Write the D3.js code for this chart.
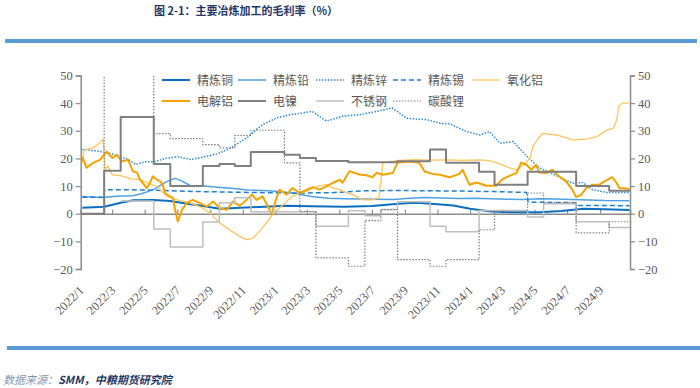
<!DOCTYPE html>
<html>
<head>
<meta charset="utf-8">
<script src="https://cdn.jsdelivr.net/npm/d3@7"></script>
<style>
  html, body { margin: 0; padding: 0; background: #fff; }
  svg { display: block; }
</style>
</head>
<body>
<svg id="chart" width="700" height="388"></svg>
<script>
// ---- data ----
const yTicks = [-20, -10, 0, 10, 20, 30, 40, 50];

const copperPts = [
  ["2022-01-04", 2.2], ["2022-02-14", 2.5], ["2022-03-17", 4.0], ["2022-04-10", 4.9], ["2022-05-18", 5.0],
  ["2022-06-18", 4.6], ["2022-07-20", 3.6], ["2022-08-15", 2.9], ["2022-09-19", 1.8], ["2022-11-16", 2.3],
  ["2023-01-20", 2.9], ["2023-03-10", 2.7], ["2023-05-10", 2.5], ["2023-07-01", 2.8], ["2023-08-20", 3.6],
  ["2023-09-20", 4.0], ["2023-10-20", 3.6], ["2023-12-01", 3.0], ["2024-01-01", 1.8], ["2024-02-10", 0.8],
  ["2024-03-20", 0.5], ["2024-05-10", 0.5], ["2024-06-20", 1.0], ["2024-08-01", 1.8], ["2024-09-10", 1.6],
  ["2024-10-26", 1.3]
];

const leadPts = [
  ["2022-01-04", 6.2], ["2022-02-10", 5.9], ["2022-03-10", 6.3], ["2022-04-10", 6.5], ["2022-05-01", 7.6],
  ["2022-05-20", 9.0], ["2022-06-10", 11.5], ["2022-06-27", 12.8], ["2022-07-10", 11.8], ["2022-07-25", 10.2],
  ["2022-08-20", 10.0], ["2022-09-15", 9.6], ["2022-10-10", 9.2], ["2022-11-10", 8.6], ["2022-12-10", 8.4],
  ["2023-01-10", 8.0], ["2023-02-10", 7.2], ["2023-03-10", 6.2], ["2023-04-10", 5.6], ["2023-05-10", 5.4],
  ["2023-06-10", 5.3], ["2023-07-10", 5.2], ["2023-08-10", 5.1], ["2023-09-10", 5.6], ["2023-10-10", 5.9],
  ["2023-11-10", 5.7], ["2023-12-10", 5.5], ["2024-01-10", 5.6], ["2024-02-10", 5.4], ["2024-03-10", 5.2],
  ["2024-04-10", 5.1], ["2024-05-10", 5.4], ["2024-06-10", 5.3], ["2024-07-10", 5.1], ["2024-08-10", 5.0],
  ["2024-09-10", 4.8], ["2024-10-26", 4.7]
];

const zincPts = [
  ["2022-01-04", 23.2], ["2022-02-02", 22.7], ["2022-02-27", 21.7], ["2022-03-31", 19.6], ["2022-04-14", 17.8],
  ["2022-05-02", 18.8], ["2022-05-20", 18.8], ["2022-06-08", 20.0], ["2022-07-02", 20.6], ["2022-07-27", 19.6],
  ["2022-08-27", 20.9], ["2022-09-15", 21.7], ["2022-10-10", 23.8], ["2022-11-11", 27.8], ["2022-11-26", 30.4],
  ["2022-12-08", 32.2], ["2023-01-04", 34.7], ["2023-01-28", 35.8], ["2023-02-20", 36.4], ["2023-03-11", 37.0],
  ["2023-04-07", 33.5], ["2023-05-07", 35.3], ["2023-06-08", 35.8], ["2023-07-10", 37.0], ["2023-08-08", 38.3],
  ["2023-09-05", 34.5], ["2023-10-13", 34.0], ["2023-11-06", 32.7], ["2023-11-24", 32.5], ["2023-12-26", 29.7],
  ["2024-01-19", 28.5], ["2024-02-07", 29.7], ["2024-02-26", 25.5], ["2024-03-22", 26.1], ["2024-04-17", 20.7],
  ["2024-05-11", 16.5], ["2024-06-12", 13.7], ["2024-07-11", 11.0], ["2024-07-30", 11.3], ["2024-08-18", 8.7],
  ["2024-09-13", 7.7], ["2024-10-26", 7.7]
];

const tinPts = [
  ["2022-01-04", 6.0], ["2022-02-13", 6.0], ["2022-02-15", 8.7], ["2022-05-01", 8.6], ["2022-06-15", 8.3],
  ["2022-08-15", 8.0], ["2022-10-15", 7.8], ["2022-12-15", 7.6], ["2023-02-15", 7.5], ["2023-04-15", 7.6],
  ["2023-06-15", 8.3], ["2023-08-15", 8.4], ["2023-10-15", 8.3], ["2023-12-15", 8.2], ["2024-02-15", 8.0],
  ["2024-04-16", 7.7], ["2024-04-19", 4.2], ["2024-07-17", 4.0], ["2024-07-20", 3.0], ["2024-10-26", 2.9]
];

const aluminaPts = [
  ["2022-01-04", 18.3], ["2022-01-07", 23.1], ["2022-01-24", 23.8], ["2022-02-06", 25.7], ["2022-02-12", 27.0],
  ["2022-02-16", 15.9], ["2022-02-21", 17.3], ["2022-03-01", 14.1], ["2022-03-19", 13.7], ["2022-04-05", 12.6],
  ["2022-04-22", 12.3], ["2022-05-05", 11.2], ["2022-05-24", 9.9], ["2022-06-12", 6.3], ["2022-07-01", 5.0],
  ["2022-07-25", 3.9], ["2022-08-12", 2.6], ["2022-08-31", 0.3], ["2022-09-19", -3.4], ["2022-10-07", -5.8],
  ["2022-10-26", -8.2], ["2022-11-08", -9.4], ["2022-11-20", -8.8], ["2022-12-02", -6.4], ["2022-12-15", -3.4],
  ["2022-12-26", -0.4], ["2023-01-09", 2.1], ["2023-01-22", 4.4], ["2023-02-02", 6.3], ["2023-02-16", 7.5],
  ["2023-03-01", 8.1], ["2023-03-12", 9.3], ["2023-03-25", 10.1], ["2023-04-07", 10.5], ["2023-04-18", 9.3],
  ["2023-05-02", 8.7], ["2023-05-15", 7.5], ["2023-05-26", 6.9], ["2023-06-14", 5.0], ["2023-07-02", 5.0],
  ["2023-07-14", 5.8], ["2023-07-22", 18.5], ["2023-08-20", 19.3], ["2023-09-20", 19.6], ["2023-10-20", 19.4],
  ["2023-11-20", 19.5], ["2023-12-20", 19.3], ["2024-01-19", 19.5], ["2024-02-07", 19.2], ["2024-02-26", 18.0],
  ["2024-03-16", 16.5], ["2024-03-29", 15.9], ["2024-04-10", 17.7], ["2024-04-23", 20.1], ["2024-04-28", 24.3],
  ["2024-05-08", 27.3], ["2024-05-17", 29.1], ["2024-05-30", 28.8], ["2024-06-18", 28.2], ["2024-07-11", 26.7],
  ["2024-08-07", 27.0], ["2024-08-26", 27.9], ["2024-09-14", 30.3], ["2024-09-26", 30.9], ["2024-10-02", 33.9],
  ["2024-10-06", 38.8], ["2024-10-12", 40.0], ["2024-10-26", 40.0]
];

const aluminiumPts = [
  ["2022-01-04", 20.7], ["2022-01-12", 16.6], ["2022-01-24", 18.4], ["2022-02-06", 19.5], ["2022-02-19", 22.5],
  ["2022-03-01", 20.2], ["2022-03-10", 21.3], ["2022-03-19", 18.9], ["2022-03-31", 19.5], ["2022-04-09", 15.3],
  ["2022-04-17", 14.8], ["2022-04-22", 12.3], ["2022-05-05", 9.3], ["2022-05-11", 11.2], ["2022-05-16", 13.5],
  ["2022-05-24", 12.3], ["2022-05-30", 11.7], ["2022-06-04", 10.5], ["2022-06-08", 7.5], ["2022-06-17", 6.3],
  ["2022-06-23", 5.7], ["2022-06-27", 1.4], ["2022-07-02", -2.8], ["2022-07-10", 1.4], ["2022-07-19", 3.9],
  ["2022-07-30", 5.0], ["2022-08-12", 3.9], ["2022-08-26", 2.6], ["2022-09-06", 4.4], ["2022-09-19", 2.1],
  ["2022-10-02", 1.4], ["2022-10-13", 4.4], ["2022-10-26", 2.9], ["2022-11-08", 5.0], ["2022-11-18", 6.9],
  ["2022-11-27", 5.0], ["2022-12-08", 6.3], ["2022-12-18", 2.6], ["2022-12-25", -0.3], ["2023-01-02", 5.0],
  ["2023-01-09", 8.7], ["2023-01-22", 6.9], ["2023-02-02", 9.3], ["2023-02-16", 7.5], ["2023-03-01", 8.7],
  ["2023-03-12", 9.6], ["2023-03-25", 8.7], ["2023-04-07", 9.9], ["2023-04-18", 11.1], ["2023-05-02", 12.3],
  ["2023-05-07", 11.2], ["2023-05-20", 15.4], ["2023-06-08", 14.2], ["2023-06-21", 13.9], ["2023-07-02", 13.2],
  ["2023-07-10", 14.8], ["2023-07-21", 14.1], ["2023-08-09", 14.7], ["2023-08-18", 18.4], ["2023-09-10", 18.9],
  ["2023-09-28", 18.4], ["2023-10-08", 15.3], ["2023-10-23", 14.4], ["2023-11-05", 14.1], ["2023-11-24", 13.2],
  ["2023-12-12", 14.4], ["2023-12-18", 15.9], ["2023-12-31", 10.5], ["2024-01-13", 11.3], ["2024-02-01", 10.1],
  ["2024-02-19", 10.1], ["2024-03-02", 12.5], ["2024-03-15", 13.7], ["2024-03-28", 14.7], ["2024-04-06", 18.5],
  ["2024-04-16", 17.7], ["2024-04-25", 15.9], ["2024-05-04", 17.7], ["2024-05-10", 14.9], ["2024-05-23", 14.7],
  ["2024-06-03", 15.9], ["2024-06-16", 13.5], ["2024-06-29", 11.7], ["2024-07-11", 8.7], ["2024-07-18", 6.0],
  ["2024-07-28", 6.9], ["2024-08-06", 9.3], ["2024-08-17", 10.5], ["2024-08-31", 10.5], ["2024-09-09", 11.7],
  ["2024-09-24", 13.2], ["2024-10-02", 11.1], ["2024-10-07", 9.3], ["2024-10-26", 9.0]
];

// monthly step series: [change date, value]
const nickelSteps = [
  ["2022-01-01", 0], ["2022-02-14", 15.5], ["2022-03-17", 35], ["2022-05-18", 18], ["2022-06-18", 10],
  ["2022-08-18", 17.3], ["2022-09-18", 18], ["2022-10-17", 17.3], ["2022-11-16", 22.3], ["2023-01-18", 21.3],
  ["2023-02-16", 20.2], ["2023-03-18", 19.1], ["2023-05-18", 18.6], ["2023-08-18", 19.0], ["2023-10-18", 23.2],
  ["2023-11-17", 18.4], ["2024-01-18", 15.2], ["2024-02-16", 10.5], ["2024-04-18", 15.2], ["2024-07-18", 10],
  ["2024-09-18", 8.3], ["2024-10-27", 8.3]
];

const stainlessSteps = [
  ["2022-03-17", 4.6], ["2022-05-18", -5.5], ["2022-06-18", -12], ["2022-08-18", -3], ["2022-09-18", 4],
  ["2022-10-17", 5.8], ["2022-11-16", 0.7], ["2023-03-18", -4.5], ["2023-05-18", 1.1], ["2023-06-18", -0.7],
  ["2023-07-18", 1.5], ["2023-08-18", 4.3], ["2023-10-18", -4.5], ["2023-11-17", -6.5], ["2024-01-18", 1.2],
  ["2024-04-18", -1.2], ["2024-05-18", 3.6], ["2024-07-18", -2.9], ["2024-09-18", -5], ["2024-10-27", -5]
];

const lithiumSteps = [
  ["2022-01-01", 0], ["2022-02-14", 60], ["2022-05-18", 29], ["2022-06-18", 27.2], ["2022-08-18", 25],
  ["2022-09-18", 23.8], ["2022-10-17", 28.3], ["2022-11-16", 30.2], ["2023-01-18", 18.4], ["2023-02-16", 0.8],
  ["2023-03-18", -16], ["2023-05-18", -19], ["2023-06-18", -2.5], ["2023-07-18", 1.5], ["2023-08-18", -16.6],
  ["2023-10-18", -19], ["2023-11-17", -16.6], ["2024-01-18", -5.8], ["2024-02-16", 0.8], ["2024-04-18", 7.5],
  ["2024-05-18", 4.0], ["2024-07-18", -6.9], ["2024-09-18", -2.9], ["2024-10-27", -2.9]
];

const seriesNames = ["精炼铜", "精炼铅", "精炼锌", "精炼锡", "氧化铝", "电解铝", "电镍", "不锈钢", "碳酸锂"];

// ---- setup ----
const parse = d3.timeParse("%Y-%m-%d");
const svg = d3.select("#chart");
const serif = "'Liberation Serif', 'Times New Roman', serif";
const cjk = "'Noto Sans CJK SC', 'Noto Sans', sans-serif";

const x = d3.scaleTime()
  .domain([parse("2022-01-01"), parse("2024-10-27")])
  .range([80.7, 630]);
const y = d3.scaleLinear().domain([-20, 50]).range([269, 75.5]);

const styles = [
  { data: copperPts, color: "#0b6fc0", w: 2.0, dash: null, step: false },
  { data: leadPts, color: "#4ea1e2", w: 1.5, dash: null, step: false },
  { data: zincPts, color: "#2a8ad6", w: 1.5, dash: "1.5,1.5", step: false },
  { data: tinPts, color: "#1f7fd0", w: 1.5, dash: "5,3", step: false },
  { data: aluminaPts, color: "#ffc45c", w: 1.3, dash: null, step: false },
  { data: aluminiumPts, color: "#f5a300", w: 2.0, dash: null, step: false },
  { data: nickelSteps, color: "#7f7f7f", w: 2.0, dash: null, step: true },
  { data: stainlessSteps, color: "#bfbfbf", w: 1.5, dash: null, step: true },
  { data: lithiumSteps, color: "#7f7f7f", w: 1.2, dash: "1.5,1.5", step: true }
];

// ---- title and bands ----
svg.append("text")
  .attr("x", 246).attr("y", 15)
  .attr("text-anchor", "middle")
  .style("font-family", cjk).style("font-size", "11px").style("font-weight", "bold")
  .attr("fill", "#1f3864")
  .text("图 2-1：主要冶炼加工的毛利率（%）");

svg.append("rect").attr("x", 5).attr("y", 39).attr("width", 692).attr("height", 4).attr("fill", "#5b9bd5");
svg.append("rect").attr("x", 7).attr("y", 346).attr("width", 693).attr("height", 4).attr("fill", "#5b9bd5");

const foot = svg.append("text")
  .attr("x", 3).attr("y", 384)
  .style("font-family", cjk).style("font-size", "11px").style("font-style", "italic");
foot.append("tspan").attr("fill", "#8496b0").text("数据来源：");
foot.append("tspan").attr("fill", "#1f3864").style("font-weight", "bold").text("SMM，中粮期货研究院");

// ---- axes ----
const axisColor = "#8c8c8c";

const yLeft = svg.append("g").attr("transform", "translate(80.7,0)")
  .call(d3.axisLeft(y).tickValues(yTicks).tickSize(5).tickPadding(3));
const yRight = svg.append("g").attr("transform", "translate(630,0)")
  .call(d3.axisRight(y).tickValues(yTicks).tickSize(5).tickPadding(3));
[yLeft, yRight].forEach(g => {
  g.select(".domain").attr("stroke", axisColor).attr("stroke-width", 1.5);
  g.selectAll(".tick line").attr("stroke", axisColor).attr("stroke-width", 1.2);
  g.selectAll(".tick text").attr("fill", "#595959")
    .style("font-family", serif).style("font-size", "12.5px");
});

const months = d3.timeMonth.every(2).range(parse("2022-01-01"), parse("2024-10-01"));
const xAxis = svg.append("g").attr("transform", `translate(0,${y(0)})`)
  .call(d3.axisTop(x).tickValues(months).tickSize(4).tickFormat(""));
xAxis.select(".domain").attr("stroke", axisColor).attr("stroke-width", 1.5);
xAxis.selectAll(".tick line").attr("stroke", axisColor).attr("stroke-width", 1.2);

const fmt = d3.timeFormat("%Y/%-m");
svg.append("g").selectAll("text")
  .data(months)
  .join("text")
  .attr("transform", d => `translate(${x(d) + 4},291) rotate(-45)`)
  .attr("text-anchor", "end")
  .attr("fill", "#595959")
  .style("font-family", serif).style("font-size", "12.5px")
  .text(d => fmt(d));

// ---- series ----
svg.append("defs").append("clipPath").attr("id", "plotClip")
  .append("rect").attr("x", 80.7).attr("y", 75.5).attr("width", 549.3).attr("height", 193.5);

const plot = svg.append("g").attr("clip-path", "url(#plotClip)");

styles.forEach(s => {
  const line = d3.line()
    .x(d => x(parse(d[0])))
    .y(d => y(d[1]))
    .curve(s.step ? d3.curveStepAfter : d3.curveLinear);
  plot.append("path")
    .datum(s.data)
    .attr("d", line)
    .attr("fill", "none")
    .attr("stroke", s.color)
    .attr("stroke-width", s.w)
    .attr("stroke-dasharray", s.dash)
    .attr("stroke-linejoin", "round");
});

// ---- legend ----
const legX = [162, 238, 316, 393, 472];
const legY = [80, 101];
const legend = svg.append("g");
styles.forEach((s, i) => {
  const row = i < 5 ? 0 : 1;
  const col = i < 5 ? i : i - 5;
  const lx = legX[col], ly = legY[row];
  legend.append("line")
    .attr("x1", lx).attr("x2", lx + 28).attr("y1", ly).attr("y2", ly)
    .attr("stroke", s.color).attr("stroke-width", s.w)
    .attr("stroke-dasharray", s.dash);
  legend.append("text")
    .attr("x", lx + 35).attr("y", ly + 4.5)
    .attr("fill", "#595959")
    .style("font-family", cjk).style("font-size", "12px")
    .text(seriesNames[i]);
});
</script>
</body>
</html>
